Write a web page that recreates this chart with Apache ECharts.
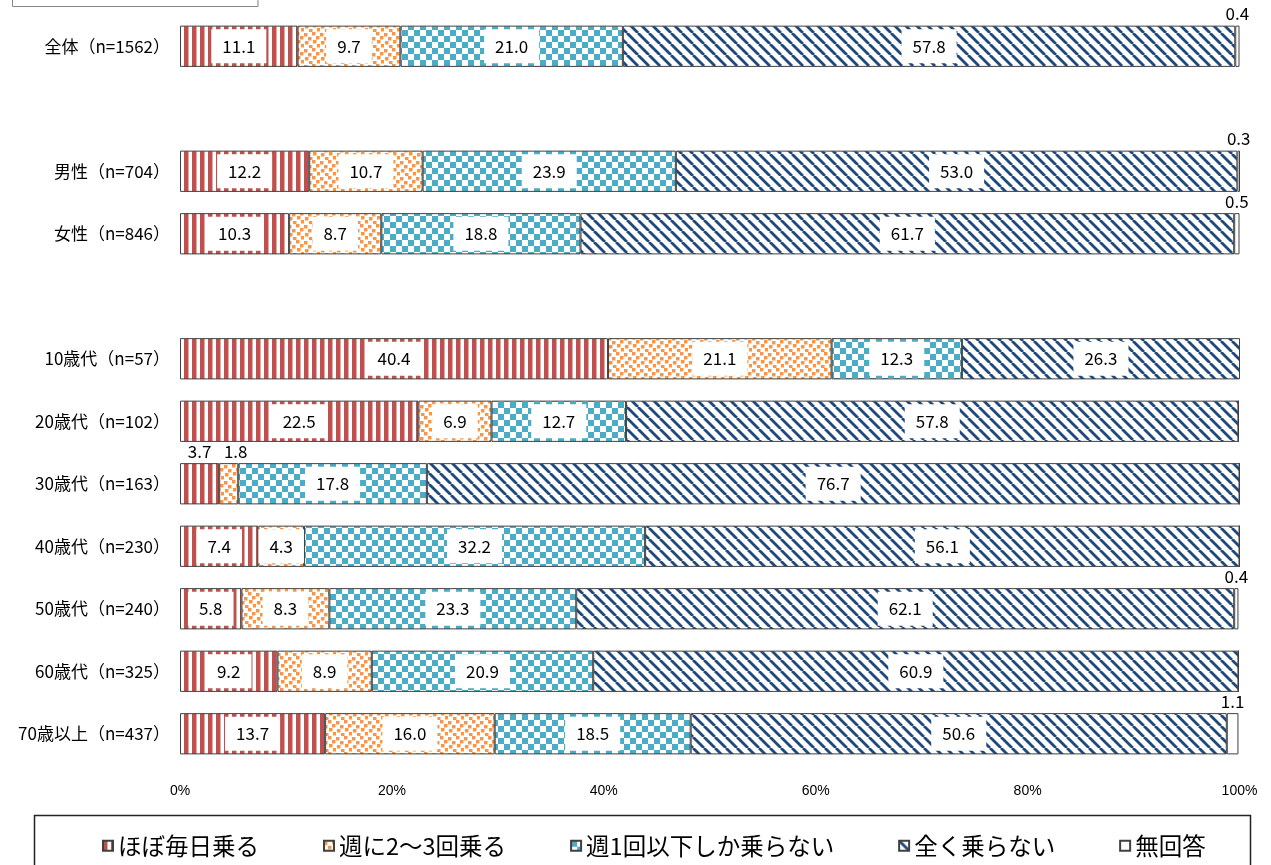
<!DOCTYPE html>
<html>
<head>
<meta charset="utf-8">
<script src="https://cdn.jsdelivr.net/npm/echarts@6/dist/echarts.min.js"></script>
<style>
html,body{margin:0;padding:0;background:#fff;}
#chart{width:1271px;height:865px;}
</style>
</head>
<body>
<div id="chart"></div>
<script>
// ---- data ----
const categories = ['全体（n=1562）', '', '男性（n=704）', '女性（n=846）', '',
  '10歳代（n=57）', '20歳代（n=102）', '30歳代（n=163）', '40歳代（n=230）',
  '50歳代（n=240）', '60歳代（n=325）', '70歳以上（n=437）'];
const seriesNames = ['ほぼ毎日乗る', '週に2～3回乗る', '週1回以下しか乗らない', '全く乗らない', '無回答'];
const daily    = [11.1, null, 12.2, 10.3, null, 40.4, 22.5, 3.7, 7.4, 5.8, 9.2, 13.7];
const weekly23 = [9.7, null, 10.7, 8.7, null, 21.1, 6.9, 1.8, 4.3, 8.3, 8.9, 16.0];
const weekly1  = [21.0, null, 23.9, 18.8, null, 12.3, 12.7, 17.8, 32.2, 23.3, 20.9, 18.5];
const never    = [57.8, null, 53.0, 61.7, null, 26.3, 57.8, 76.7, 56.1, 62.1, 60.9, 50.6];
const noAnswer = [0.4, null, 0.3, 0.5, null, 0, 0, 0, 0, 0.4, 0, 1.1];
const xTicks = [0, 20, 40, 60, 80, 100];

// ---- patterns ----
function tile(w, h, draw) {
  const c = document.createElement('canvas');
  c.width = w; c.height = h;
  const ctx = c.getContext('2d');
  ctx.fillStyle = '#fff'; ctx.fillRect(0, 0, w, h);
  draw(ctx);
  return c;
}
const redStripe = tile(8, 8, ctx => {
  ctx.fillStyle = '#C0504D'; ctx.fillRect(0, 0, 4, 8);
  ctx.fillStyle = '#E2A9A7'; ctx.fillRect(4, 0, 1, 8);
});
const orangeDots = tile(16, 16, ctx => {
  ctx.fillStyle = '#F79646';
  [[0,1],[8,0],[4,5],[12,4],[1,9],[9,8],[5,13],[13,12]].forEach(p => ctx.fillRect(p[0], p[1], 3.5, 3.5));
});
const checker = tile(12, 12, ctx => {
  ctx.fillStyle = '#4BACC6';
  ctx.fillRect(0, 0, 6, 6); ctx.fillRect(6, 6, 6, 6);
});
const diag = tile(11, 11, ctx => {
  ctx.strokeStyle = '#1F497D'; ctx.lineWidth = 2.8;
  [-11, 0, 11].forEach(x => { ctx.beginPath(); ctx.moveTo(x, 0); ctx.lineTo(x + 11, 11); ctx.stroke(); });
});
const fills = [
  {image: redStripe, repeat: 'repeat'},
  {image: orangeDots, repeat: 'repeat'},
  {image: checker, repeat: 'repeat'},
  {image: diag, repeat: 'repeat'},
  '#ffffff'
];

const valueSets = [daily, weekly23, weekly1, never, noAnswer];
const SMALL = 4;

function buildData(arr, si) {
  return arr.map((v, ri) => {
    if (v === null) return '-';
    if (v === 0) return {value: 0, label: {show: false}};
    if (v < SMALL) {
      // shift right when the previous segment in the same row is also labelled above
      const prev = si > 0 ? valueSets[si - 1][ri] : null;
      const shift = (prev !== null && prev > 0 && prev < SMALL) ? 7 : 0;
      return {value: v, label: {position: 'top', distance: 2, backgroundColor: 'transparent',
        padding: 0, offset: [shift, 0]}};
    }
    return v;
  });
}

const font = '"Noto Sans CJK JP", "Noto Sans", sans-serif';

const series = valueSets.map((arr, i) => ({
  name: seriesNames[i],
  type: 'bar',
  stack: 'total',
  barWidth: '66%',
  data: buildData(arr, i),
  itemStyle: {color: fills[i], borderColor: '#404040', borderWidth: 1},
  label: {
    show: true,
    position: 'inside',
    formatter: p => Number(p.value).toFixed(1),
    fontFamily: font,
    fontSize: 17,
    color: '#000',
    backgroundColor: '#fff',
    padding: [7, 11],
    lineHeight: 20
  },
  emphasis: {disabled: true}
}));

const chart = echarts.init(document.getElementById('chart'), null, {renderer: 'canvas'});
chart.setOption({
  animation: false,
  backgroundColor: '#fff',
  grid: {left: 180, right: 31.5, top: 15, bottom: 100, containLabel: false},
  xAxis: {
    type: 'value', min: 0, max: 100, interval: 20,
    axisLine: {show: false}, axisTick: {show: false}, splitLine: {show: false},
    axisLabel: {formatter: '{value}%', fontSize: 14, color: '#000', margin: 19,
      fontFamily: '"Liberation Sans Narrow", "Liberation Sans", sans-serif',
      customValues: xTicks}
  },
  yAxis: {
    type: 'category', data: categories, inverse: true,
    axisLine: {show: false}, axisTick: {show: false}, splitLine: {show: false},
    axisLabel: {fontSize: 17, color: '#000', margin: 10, fontFamily: font}
  },
  legend: {
    data: seriesNames,
    left: 97, top: 829,
    itemWidth: 10, itemHeight: 10, itemGap: 64,
    icon: 'rect',
    textStyle: {fontSize: 23.5, color: '#000', fontFamily: font}
  },
  graphic: [
    {type: 'rect', shape: {x: 12.5, y: -5, width: 245.5, height: 11.5},
      style: {fill: 'none', stroke: '#888', lineWidth: 1}},
    {type: 'rect', shape: {x: 34.5, y: 815.5, width: 1216, height: 60},
      style: {fill: 'none', stroke: '#222', lineWidth: 1.5}}
  ],
  series: series
});
</script>
</body>
</html>
